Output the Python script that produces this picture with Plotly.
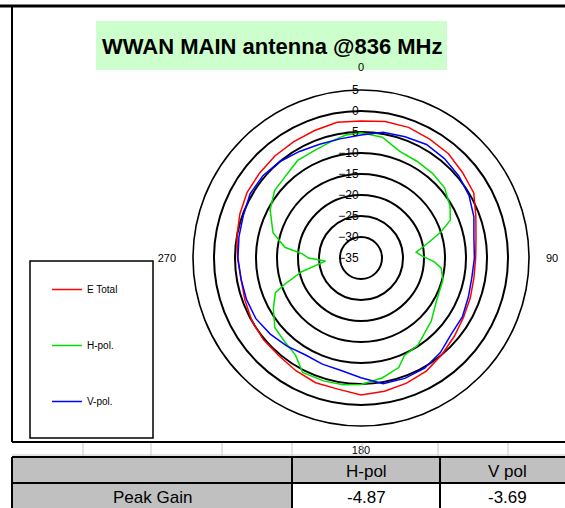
import plotly.graph_objects as go

W, H = 565, 508

# ---- data ----
TITLE = "WWAN MAIN antenna @836 MHz"
SERIES_NAMES = ["E Total", "H-pol.", "V-pol."]

E_THETA = list(range(0, 360, 10))
E_TOTAL = [-2.4, -2.0, -1.9, -2.3, -2.6, -3.4, -4.0, -5.9, -7.2, -7.7, -7.7, -7.3,
           -6.8, -6.0, -5.0, -3.9, -3.3, -2.8, -2.4, -3.3, -3.4, -4.0, -4.6, -4.7,
           -5.0, -5.6, -6.0, -5.6, -5.0, -4.3, -3.7, -3.5, -3.2, -3.0, -2.7, -2.2]

V_THETA = list(range(0, 360, 10))
V_POL = [-5.7, -4.6, -4.3, -3.8, -4.1, -4.6, -5.3, -6.4, -7.7, -8.0, -8.2, -7.8,
         -7.1, -6.9, -5.6, -4.7, -4.5, -4.6, -6.5, -7.8, -8.1, -8.4, -7.6, -6.8,
         -6.1, -6.0, -6.0, -5.7, -5.5, -5.2, -4.5, -4.5, -5.0, -5.7, -6.2, -6.2]

H_THETA = [0, 10, 20, 30, 40, 50, 60, 67, 72, 78, 84, 88, 93, 97, 105, 120, 132,
           147, 156, 161, 170, 180, 188, 197, 207, 214, 222, 231, 240, 248, 251,
           257, 265, 270, 274, 278, 286, 298, 308, 317, 327, 337, 347, 353]
H_POL = [-5.2, -5.8, -8.0, -8.4, -8.6, -9.0, -10.5, -11.9, -15.0, -19.0, -21.8,
         -20.5, -17.5, -15.8, -14.8, -14.3, -12.5, -10.2, -9.6, -7.4, -6.0, -4.9,
         -4.5, -4.4, -4.4, -7.1, -8.0, -8.6, -10.9, -13.0, -15.8, -20.5, -26.5,
         -22.5, -21.0, -16.7, -13.2, -10.5, -8.9, -8.5, -7.3, -7.1, -6.2, -5.5]

R_TICKS = [-35, -30, -25, -20, -15, -10, -5, 0, 5]
ANG_TICKS = [0, 90, 180, 270]
ANG_LABELS = ["0", "90", "180", "270"]

TABLE_HEADER = ["", "H-pol", "V pol"]
TABLE_ROW = ["Peak Gain", "-4.87", "-3.69"]


def px(x):
    return x / W


def py(y):
    return 1 - y / H


def closed(a):
    return list(a) + [a[0]]


fig = go.Figure()
for name, th, r, col in [
    (SERIES_NAMES[0], E_THETA, E_TOTAL, "#ff0000"),
    (SERIES_NAMES[1], H_THETA, H_POL, "#00e000"),
    (SERIES_NAMES[2], V_THETA, V_POL, "#0000ff"),
]:
    fig.add_trace(go.Scatterpolar(
        theta=closed(th), r=closed(r), mode="lines", name=name,
        legendgroup=name, line=dict(color=col, width=1.5),
    ))

cx, cy, R = 361, 258, 168
fig.update_layout(
    width=W, height=H,
    margin=dict(l=0, r=0, t=0, b=0),
    paper_bgcolor="white",
    font=dict(family="Liberation Sans, Arial, sans-serif", color="black"),
    polar=dict(
        domain=dict(x=[px(cx - R), px(cx + R)], y=[py(cy + R), py(cy - R)]),
        bgcolor="rgba(0,0,0,0)",
        radialaxis=dict(
            range=[-35, 5], tickvals=R_TICKS, showline=False, ticks="",
            gridcolor="black", gridwidth=1.6, angle=90, tickangle=90,
            side="counterclockwise", tickfont=dict(size=12, color="black"),
        ),
        angularaxis=dict(
            rotation=90, direction="clockwise", tickvals=ANG_TICKS,
            ticktext=ANG_LABELS, showgrid=False, showline=True,
            linecolor="black", linewidth=1.6, ticks="outside", ticklen=14,
            tickcolor="rgba(0,0,0,0)", tickfont=dict(size=11, color="black"),
        ),
    ),
    showlegend=True,
    legend=dict(
        x=px(47), y=py(275), xanchor="left", yanchor="top",
        bgcolor="rgba(0,0,0,0)", borderwidth=0, tracegroupgap=37,
        font=dict(size=10, color="black"), itemwidth=30,
    ),
)

shapes = []
# title box
shapes.append(dict(type="rect", xref="paper", yref="paper", x0=px(96), x1=px(447),
                   y0=py(70), y1=py(21), fillcolor="#ccffcc", line=dict(width=0), layer="below"))
# frame
shapes.append(dict(type="line", xref="paper", yref="paper", x0=0, x1=1, y0=py(6), y1=py(6),
                   line=dict(color="black", width=3)))
shapes.append(dict(type="line", xref="paper", yref="paper", x0=px(12), x1=px(12), y0=py(6), y1=py(442),
                   line=dict(color="black", width=2)))
shapes.append(dict(type="line", xref="paper", yref="paper", x0=px(12), x1=1, y0=py(442), y1=py(442),
                   line=dict(color="black", width=2)))
# legend box
shapes.append(dict(type="rect", xref="paper", yref="paper", x0=px(30), x1=px(153),
                   y0=py(438), y1=py(261), line=dict(color="black", width=1.5)))
# spreadsheet grid strip
for gx in [83, 151, 222, 292, 362, 438, 508]:
    shapes.append(dict(type="line", xref="paper", yref="paper", x0=px(gx), x1=px(gx),
                       y0=py(443), y1=py(457), line=dict(color="#c8c8c8", width=1)))
shapes.append(dict(type="line", xref="paper", yref="paper", x0=px(12), x1=1, y0=py(455), y1=py(455),
                   line=dict(color="#c8c8c8", width=1)))
# table
shapes.append(dict(type="rect", xref="paper", yref="paper", x0=px(12), x1=1, y0=py(483), y1=py(457),
                   fillcolor="#c0c0c0", line=dict(width=0), layer="below"))
shapes.append(dict(type="rect", xref="paper", yref="paper", x0=px(12), x1=px(292), y0=0, y1=py(483),
                   fillcolor="#c0c0c0", line=dict(width=0), layer="below"))
for yy in [457, 483]:
    shapes.append(dict(type="line", xref="paper", yref="paper", x0=px(12), x1=1, y0=py(yy), y1=py(yy),
                       line=dict(color="black", width=2)))
for xx in [12, 292, 440]:
    shapes.append(dict(type="line", xref="paper", yref="paper", x0=px(xx), x1=px(xx), y0=0, y1=py(457),
                       line=dict(color="black", width=2)))
fig.update_layout(shapes=shapes)

ann = [dict(text="<b>%s</b>" % TITLE, xref="paper", yref="paper", x=px(272), y=py(46),
            xanchor="center", yanchor="middle", showarrow=False,
            font=dict(size=22, color="black"))]
col_x = [152, 366, 507]
for i, t in enumerate(TABLE_HEADER):
    if t:
        ann.append(dict(text=t, xref="paper", yref="paper", x=px(col_x[i]), y=py(471),
                        xanchor="center", yanchor="middle", showarrow=False,
                        font=dict(size=17, color="black")))
for i, t in enumerate(TABLE_ROW):
    ann.append(dict(text=t, xref="paper", yref="paper", x=px(col_x[i]), y=py(497),
                    xanchor="center", yanchor="middle", showarrow=False,
                    font=dict(size=17, color="black")))
fig.update_layout(annotations=ann)

fig.write_html("out.html", config={"displayModeBar": False},
               post_script="document.body.style.margin='0';document.body.style.overflow='hidden';")
